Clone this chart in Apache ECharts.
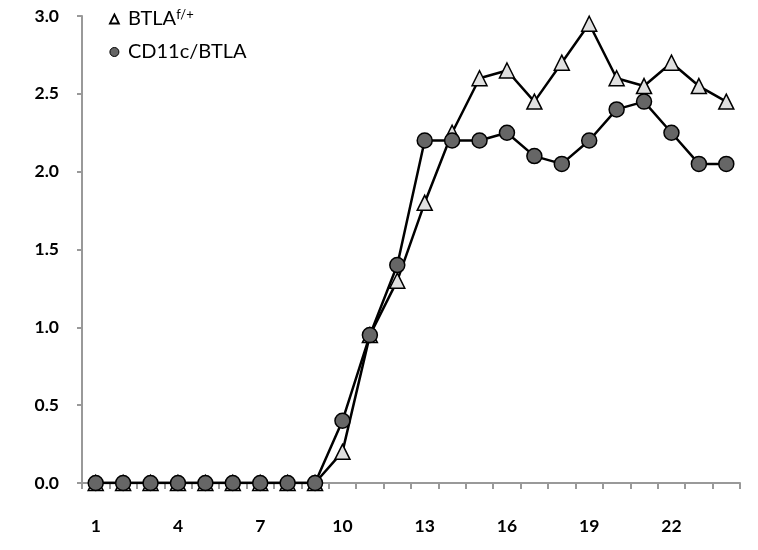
<!DOCTYPE html>
<html>
<head>
<meta charset="utf-8">
<script src="https://cdn.jsdelivr.net/npm/echarts@6/dist/echarts.min.js"></script>
<style>
  html, body { margin: 0; padding: 0; background: #fff; }
  #chart { width: 758px; height: 550px; }
</style>
</head>
<body>
<div id="chart"></div>
<script>
// Days on the x axis
const days = ['1','2','3','4','5','6','7','8','9','10','11','12','13','14','15','16','17','18','19','20','21','22','23','24'];
// Clinical score per day, per group
const btlaFlox = [0, 0, 0, 0, 0, 0, 0, 0, 0, 0.2, 0.95, 1.3, 1.8, 2.25, 2.6, 2.65, 2.45, 2.7, 2.95, 2.6, 2.55, 2.7, 2.55, 2.45];
const cd11cBtla = [0, 0, 0, 0, 0, 0, 0, 0, 0, 0.4, 0.95, 1.4, 2.2, 2.2, 2.2, 2.25, 2.1, 2.05, 2.2, 2.4, 2.45, 2.25, 2.05, 2.05];

const FONT = 'Lato, "Open Sans", sans-serif';
const chart = echarts.init(document.getElementById('chart'), null, { renderer: 'canvas' });

chart.setOption({
  animation: false,
  backgroundColor: '#ffffff',
  grid: { left: 82, right: 18, top: 16, bottom: 67, containLabel: false },
  legend: {
    orient: 'vertical',
    left: 109,
    top: 8,
    padding: 0,
    itemGap: 10,
    itemWidth: 9,
    itemHeight: 9,
    data: [
      { name: 'BTLA', icon: 'triangle', itemStyle: { color: '#ffffff', borderColor: '#000', borderWidth: 1.8 } },
      { name: 'CD11c/BTLA', icon: 'circle', itemStyle: { color: '#666666', borderColor: '#000', borderWidth: 1 } }
    ],
    formatter: function (name) {
      return name === 'BTLA' ? 'BTLA{sup|f/+}' : name;
    },
    textStyle: {
      fontFamily: FONT, fontSize: 20, lineHeight: 22, color: '#000', padding: [0, 0, 0, 4],
      rich: {
        sup: { fontFamily: FONT, fontSize: 13, lineHeight: 22, verticalAlign: 'top', padding: [0, 0, 10, 0], color: '#000' }
      }
    }
  },
  xAxis: {
    type: 'category',
    data: days,
    boundaryGap: true,
    axisLine: { lineStyle: { color: '#999', width: 2 } },
    axisTick: { show: true, interval: 0, length: 6, lineStyle: { color: '#999', width: 2 } },
    axisLabel: { interval: 2, margin: 34, fontFamily: FONT, fontWeight: 'bold', fontSize: 17.5, color: '#000' }
  },
  yAxis: {
    type: 'value',
    min: 0,
    max: 3,
    interval: 0.5,
    splitLine: { show: false },
    axisLine: { show: true, lineStyle: { color: '#999', width: 2 } },
    axisTick: { show: true, length: 5, lineStyle: { color: '#999', width: 2 } },
    axisLabel: {
      margin: 23, fontFamily: FONT, fontWeight: 'bold', fontSize: 17.5, color: '#000',
      formatter: function (v) { return v.toFixed(1); }
    }
  },
  series: [
    {
      name: 'BTLA',
      type: 'line',
      data: btlaFlox,
      symbol: 'triangle',
      symbolSize: 15,
      z: 2,
      lineStyle: { color: '#000', width: 2.5 },
      itemStyle: { color: '#e0e0e0', borderColor: '#000', borderWidth: 1.5 }
    },
    {
      name: 'CD11c/BTLA',
      type: 'line',
      data: cd11cBtla,
      symbol: 'circle',
      symbolSize: 15,
      z: 3,
      lineStyle: { color: '#000', width: 2.5 },
      itemStyle: { color: '#666666', borderColor: '#000', borderWidth: 1.5 }
    }
  ]
});
</script>
</body>
</html>
